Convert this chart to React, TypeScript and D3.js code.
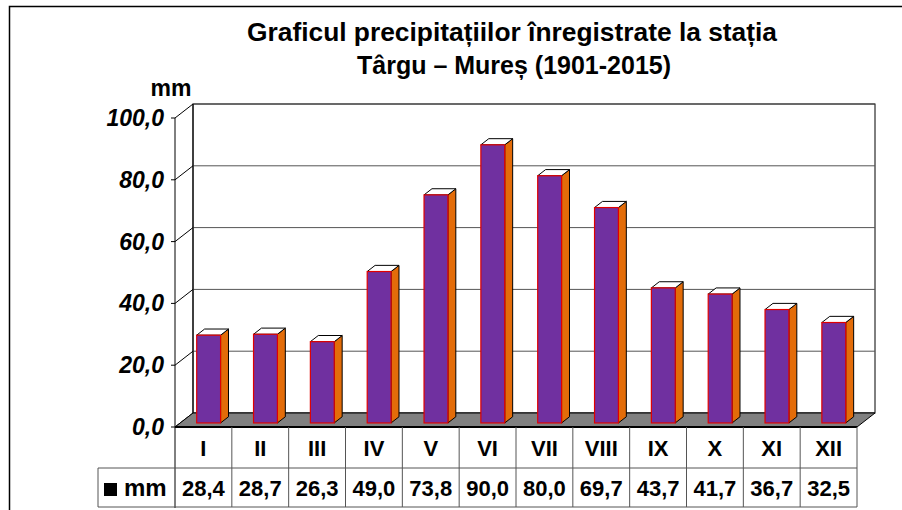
import React from "react";
import * as d3 from "d3";

const months = ["I", "II", "III", "IV", "V", "VI", "VII", "VIII", "IX", "X", "XI", "XII"];
const mmValues = [28.4, 28.7, 26.3, 49.0, 73.8, 90.0, 80.0, 69.7, 43.7, 41.7, 36.7, 32.5];
const yTicks = [0, 20, 40, 60, 80, 100];
const titleLines = ["Graficul precipitațiilor înregistrate la stația", "Târgu – Mureș (1901-2015)"];
const unitLabel = "mm";
const seriesName = "mm";

const FONT = "'Liberation Sans', Arial, Helvetica, sans-serif";
const fmt = (v: number) => d3.format(".1f")(v).replace(".", ",");

export default function App() {
  const x = d3.scaleBand<string>().domain(months).range([175, 857]).paddingInner(0).paddingOuter(0);
  const y = d3.scaleLinear().domain([0, 100]).range([427, 118]);
  const DX = 18, DY = -14;
  const f0 = 0.29, f1 = 0.73;
  const bw = x.bandwidth() * 0.42;
  const x0 = 175, x1 = 857;
  const yTop = y(100);
  const yBot = y(0);
  const rowTop = 427, rowMid = 468, rowBot = 507, legendLeft = 98;

  return (
    <svg width={902} height={510} style={{ position: "absolute", left: 0, top: 0 }} fontFamily={FONT}>
      <rect x={0} y={0} width={902} height={510} fill="#fff" />
      {/* frame */}
      <path d={`M9.5,510 V6.5 H902`} fill="none" stroke="#000" strokeWidth={1.5} />
      {/* title */}
      <text x={512} y={41} textAnchor="middle" fontSize={25} fontWeight="bold" textLength={530} lengthAdjust="spacingAndGlyphs">{titleLines[0]}</text>
      <text x={514} y={74} textAnchor="middle" fontSize={25} fontWeight="bold">{titleLines[1]}</text>
      <text x={171} y={96} textAnchor="middle" fontSize={23} fontWeight="bold">{unitLabel}</text>

      {/* back wall */}
      <rect x={x0 + DX} y={yTop + DY} width={x1 - x0} height={yBot - yTop} fill="#fff" stroke="#000" strokeWidth={1} />
      {yTicks.map((t) => (
        <g key={t}>
          <line x1={x0 + DX} x2={x1 + DX} y1={y(t) + DY} y2={y(t) + DY} stroke="#555" strokeWidth={1} />
          <line x1={x0} x2={x0 + DX} y1={y(t)} y2={y(t) + DY} stroke="#000" strokeWidth={1} />
          <line x1={x0 - 4} x2={x0} y1={y(t)} y2={y(t)} stroke="#000" strokeWidth={1} />
          <text x={164} y={y(t) + 8} textAnchor="end" fontSize={23} fontWeight="bold" fontStyle="italic">{fmt(t)}</text>
        </g>
      ))}
      {/* side wall edges */}
      <line x1={x0 + DX} x2={x0 + DX} y1={yTop + DY} y2={yBot + DY} stroke="#000" strokeWidth={1} />
      <line x1={x0} x2={x0} y1={yTop} y2={rowBot + 1} stroke="#000" strokeWidth={1} />

      {/* floor */}
      <path d={`M${x0},${yBot} L${x1},${yBot} L${x1 + DX},${yBot + DY} L${x0 + DX},${yBot + DY} Z`} fill="#808080" stroke="#000" strokeWidth={1} />
      <line x1={x0} x2={x1} y1={yBot} y2={yBot} stroke="#000" strokeWidth={2} />

      {/* bars */}
      {months.map((m, i) => {
        const v = mmValues[i];
        const bx = (x(m) as number) + (x.bandwidth() - bw) / 2 + DX * f0;
        const by0 = yBot + DY * f0;
        const byt = y(v) + DY * f0;
        const sdx = DX * (f1 - f0), sdy = DY * (f1 - f0);
        return (
          <g key={m}>
            <path d={`M${bx + bw},${by0} L${bx + bw + sdx},${by0 + sdy} L${bx + bw + sdx},${byt + sdy} L${bx + bw},${byt} Z`} fill="#E36C09" stroke="#000" strokeWidth={1} strokeLinejoin="round" />
            <path d={`M${bx},${byt} L${bx + sdx},${byt + sdy} L${bx + bw + sdx},${byt + sdy} L${bx + bw},${byt} Z`} fill="#fff" stroke="#000" strokeWidth={1} strokeLinejoin="round" />
            <rect x={bx} y={byt} width={bw} height={by0 - byt} fill="#7030A0" stroke="#E00000" strokeWidth={1.2} />
          </g>
        );
      })}

      {/* data table */}
      <g stroke="#555" strokeWidth={1} fill="none">
        <line x1={x0} x2={x1} y1={rowMid} y2={rowMid} />
        <line x1={legendLeft} x2={x1} y1={rowBot} y2={rowBot} />
        <line x1={legendLeft} x2={x0} y1={rowMid} y2={rowMid} />
        <line x1={legendLeft} x2={legendLeft} y1={rowMid} y2={rowBot} />
        {months.map((m) => (
          <line key={m} x1={(x(m) as number) + x.bandwidth()} x2={(x(m) as number) + x.bandwidth()} y1={rowTop} y2={rowBot} />
        ))}
      </g>
      {months.map((m, i) => (
        <g key={m}>
          <text x={(x(m) as number) + x.bandwidth() / 2} y={456} textAnchor="middle" fontSize={22} fontWeight="bold">{m}</text>
          <text x={(x(m) as number) + x.bandwidth() / 2} y={496} textAnchor="middle" fontSize={22} fontWeight="bold">{fmt(mmValues[i])}</text>
        </g>
      ))}
      <rect x={104} y={483} width={13} height={13} fill="#000" />
      <text x={124} y={496} fontSize={24} fontWeight="bold">{seriesName}</text>
    </svg>
  );
}
